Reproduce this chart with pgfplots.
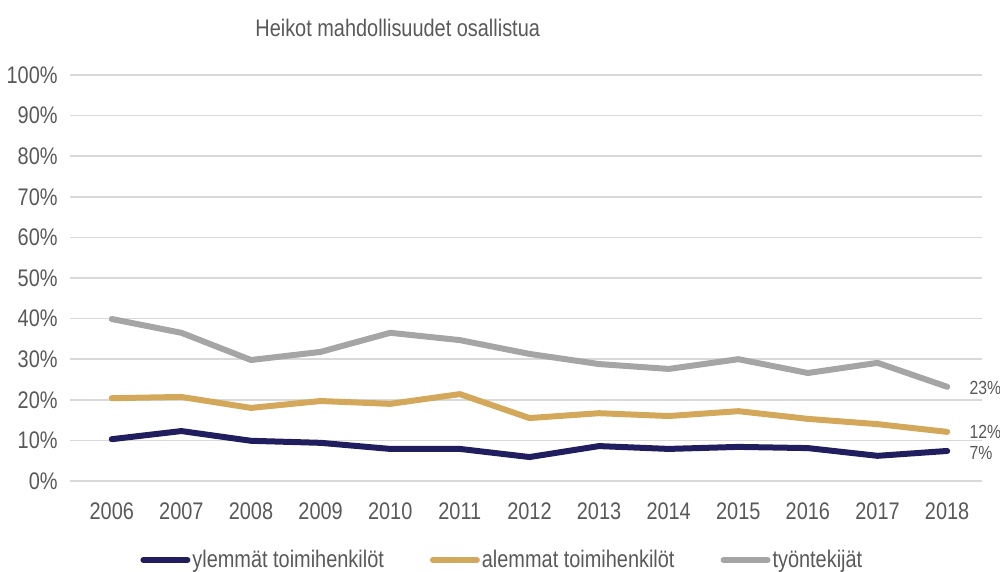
\documentclass[border=0pt]{standalone}
\usepackage{fontspec}
\setmainfont{Liberation Sans}[FakeStretch=0.83]
\usepackage{pgfplots}
\pgfplotsset{compat=1.18}
\definecolor{navy}{HTML}{201E5E}
\definecolor{gold}{HTML}{D4A85A}
\definecolor{gry}{HTML}{A5A5A5}
\definecolor{gridc}{HTML}{D9D9D9}
\definecolor{txt}{HTML}{595959}
\begin{document}
\begin{tikzpicture}
\path[use as bounding box] (-35pt,-45.5pt) rectangle (465pt,240.5pt);
\begin{axis}[
  at={(0pt,0pt)}, anchor=origin,
  scale only axis, width=456pt, height=203pt,
  xmin=2005.4, xmax=2018.5, ymin=0, ymax=100,
  axis line style={draw=none},
  tick style={draw=none},
  xtick={2006,...,2018},
  ytick={0,10,...,100},
  xmajorgrids=false, ymajorgrids=true,
  y grid style={gridc, line width=0.75pt},
  /pgf/number format/1000 sep={},
  /pgf/number format/assume math mode=true,
  yticklabel={\pgfmathprintnumber{\tick}\%},
  ticklabel style={font=\fontsize{12}{14}\selectfont, text=txt},
  yticklabel style={anchor=east, inner sep=0pt, xshift=-6pt},
  xticklabel style={anchor=north, inner sep=0pt, yshift=-10.5pt},
  clip=false,
  legend style={draw=none, fill=none, at={(rel axis cs:0,0)}, xshift=35pt, yshift=-39.5pt, anchor=west,
    font=\fontsize{12}{14}\selectfont, text=txt, inner sep=0pt,
    nodes={inner sep=1pt},
    /tikz/every even column/.append style={column sep=22pt}},
  legend columns=3,
  legend cell align=left,
  legend image code/.code={\draw[#1, line cap=round] (1.5pt,0pt) -- (23.5pt,0pt);},
  every axis plot/.append style={line width=3pt, line join=round, line cap=round},
]
\addplot[navy] coordinates {(2006,10.3)(2007,12.3)(2008,9.9)(2009,9.4)(2010,7.9)(2011,7.9)(2012,5.9)(2013,8.6)(2014,7.9)(2015,8.4)(2016,8.1)(2017,6.2)(2018,7.4)};
\addlegendentry{ylemmät toimihenkilöt}
\addplot[gold] coordinates {(2006,20.4)(2007,20.7)(2008,18.0)(2009,19.7)(2010,19.0)(2011,21.4)(2012,15.5)(2013,16.7)(2014,16.0)(2015,17.2)(2016,15.3)(2017,14.0)(2018,12.1)};
\addlegendentry{alemmat toimihenkilöt}
\addplot[gry] coordinates {(2006,39.9)(2007,36.5)(2008,29.8)(2009,31.8)(2010,36.5)(2011,34.7)(2012,31.3)(2013,28.8)(2014,27.6)(2015,30.0)(2016,26.6)(2017,29.1)(2018,23.2)};
\addlegendentry{työntekijät}
\begin{scope}[every node/.style={anchor=west, inner sep=0pt, font=\fontsize{9.5}{11}\selectfont, text=txt, xshift=11pt}]
\node at (axis cs:2018,23.0) {23\%};
\node at (axis cs:2018,12.0) {12\%};
\node at (axis cs:2018,7.0) {7\%};
\end{scope}
\node[anchor=west, inner sep=0pt, font=\fontsize{12}{14}\selectfont, text=txt] at ([xshift=92.5pt, yshift=23.5pt]rel axis cs:0,1) {Heikot mahdollisuudet osallistua};
\end{axis}
\end{tikzpicture}
\end{document}
